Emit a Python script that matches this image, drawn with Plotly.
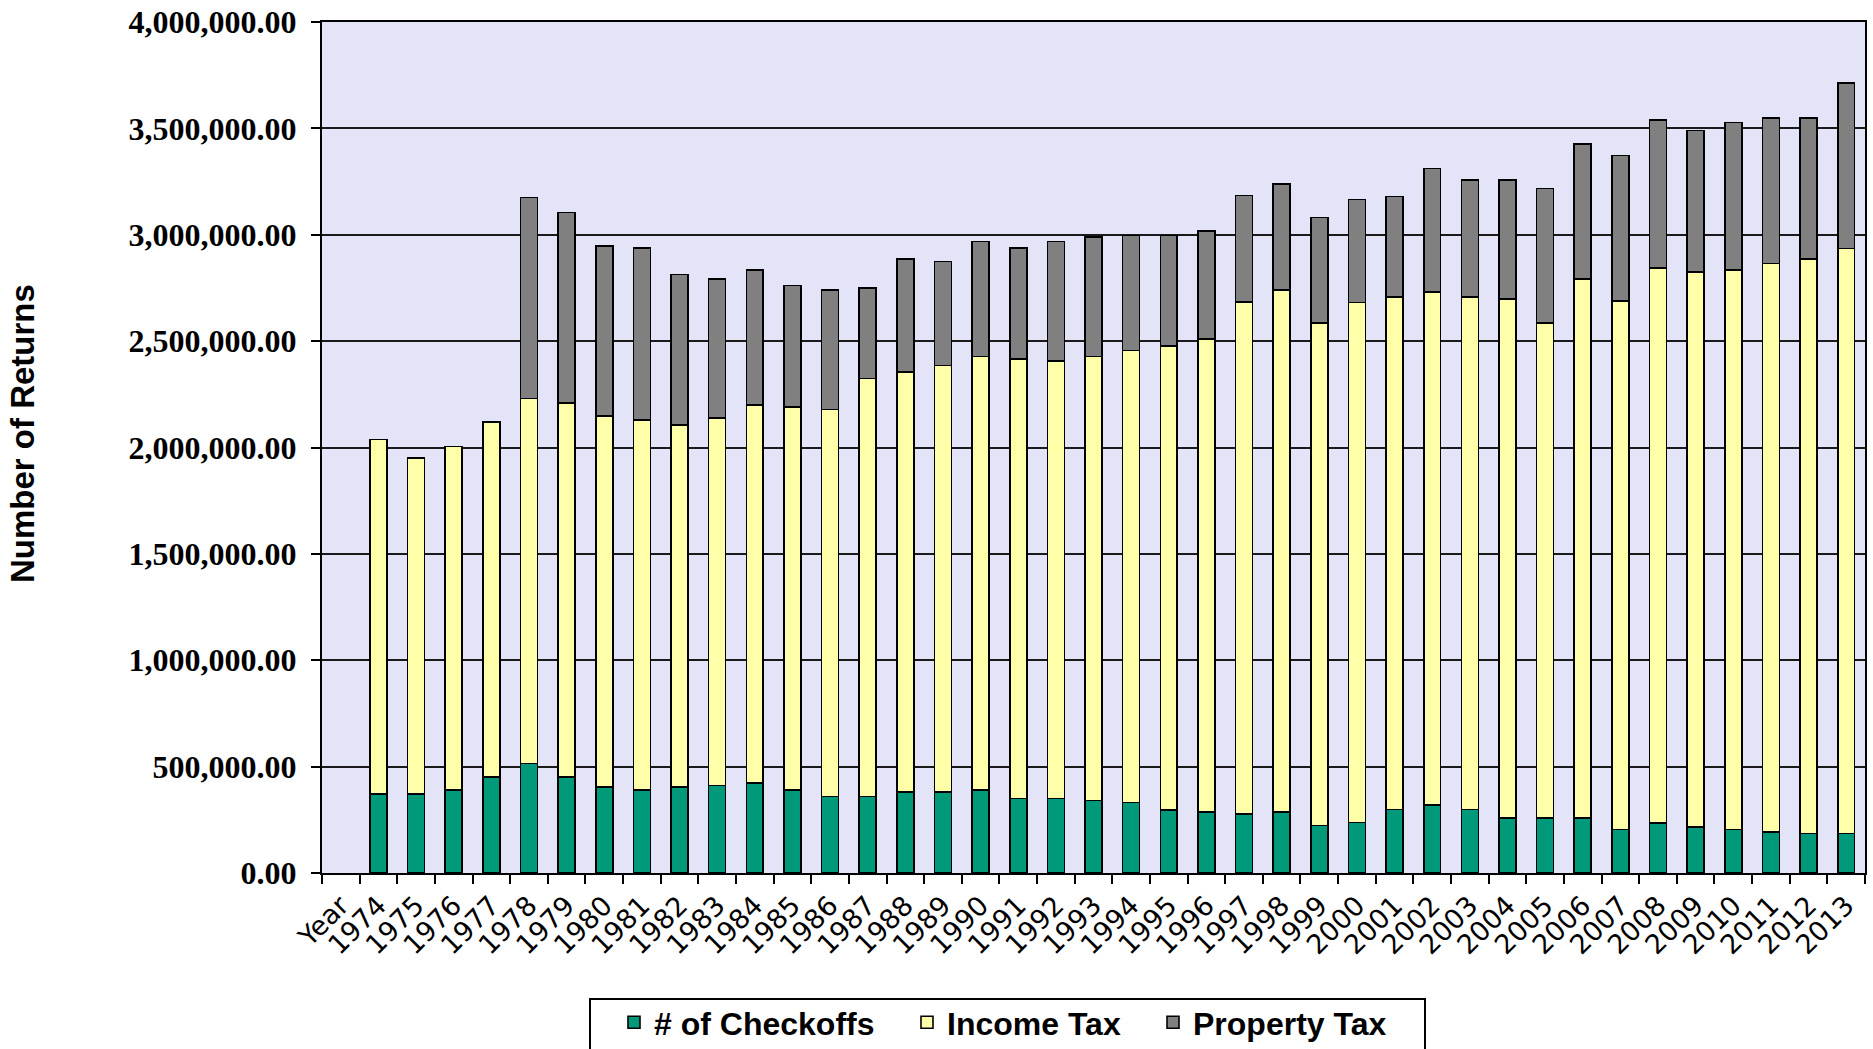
import plotly.graph_objects as go

categories = ["Year"] + [str(y) for y in range(1974, 2014)]

checkoffs = [None,
             371000, 371000, 391000, 452000, 515000, 452000, 403000, 391000, 403000, 412000,
             423000, 391000, 360000, 360000, 382000, 382000, 391000, 351000, 351000, 340000,
             331000, 297000, 288000, 277000, 288000, 224000, 237000, 298000, 319000, 298000,
             258000, 258000, 258000, 204000, 235000, 217000, 204000, 194000, 186000, 186000]

income_tax = [None,
              1667000, 1581000, 1613000, 1667000, 1716000, 1757000, 1745000, 1737000, 1704000, 1727000,
              1777000, 1799000, 1819000, 1965000, 1973000, 2004000, 2036000, 2064000, 2055000, 2087000,
              2125000, 2181000, 2222000, 2408000, 2452000, 2360000, 2444000, 2409000, 2411000, 2409000,
              2441000, 2326000, 2535000, 2485000, 2609000, 2607000, 2630000, 2671000, 2699000, 2750000]

property_tax = [None,
                0, 0, 0, 0, 945000, 895000, 798000, 809000, 706000, 654000,
                634000, 572000, 560000, 426000, 530000, 488000, 542000, 522000, 563000, 562000,
                540000, 518000, 508000, 500000, 498000, 498000, 485000, 472000, 581000, 551000,
                559000, 633000, 633000, 683000, 694000, 666000, 694000, 683000, 663000, 778000]

series_names = ["# of Checkoffs", "Income Tax", "Property Tax"]
series_colors = ["#00997A", "#FFFFAA", "#808080"]
series_values = [checkoffs, income_tax, property_tax]
legend_ids = ["legend", "legend2", "legend3"]

W, H = 1873, 1049
L, R, T, B = 322, 8, 22, 176
pw, ph = W - L - R, H - T - B

def px_x(p):
    return (p - L) / pw

def px_y(p):
    return (H - B - p) / ph

fig = go.Figure()
for name, color, vals, lg in zip(series_names, series_colors, series_values, legend_ids):
    fig.add_trace(go.Bar(
        x=categories, y=vals, name=name, legend=lg, showlegend=True,
        marker=dict(color=color, line=dict(color="#000000", width=1.6)),
    ))

legend_font = dict(family="Liberation Sans, Arial, sans-serif", size=32, color="#000000", weight="bold")
legend_common = dict(orientation="h", xanchor="left", yanchor="top",
                     xref="container", yref="container", y=1 - 995 / H,
                     bgcolor="rgba(0,0,0,0)", borderwidth=0, font=legend_font)

fig.update_layout(
    width=W, height=H,
    margin=dict(l=L, r=R, t=T, b=B, pad=0),
    paper_bgcolor="#FFFFFF",
    plot_bgcolor="#E4E4F8",
    barmode="stack",
    bargap=0.55,
    showlegend=True,
    legend=dict(x=614 / W, **legend_common),
    legend2=dict(x=907 / W, **legend_common),
    legend3=dict(x=1153 / W, **legend_common),
    xaxis=dict(
        type="category",
        categoryorder="array", categoryarray=categories,
        tickangle=-45,
        tickson="boundaries",
        ticks="outside", ticklen=9, tickwidth=1.5, tickcolor="#000000",
        ticklabelstandoff=4,
        showline=True, linecolor="#000000", linewidth=2, mirror=True,
        showgrid=False,
        automargin=False,
        tickfont=dict(family="DejaVu Sans, Verdana, sans-serif", size=27, color="#000000"),
    ),
    yaxis=dict(
        range=[0, 4000000],
        dtick=500000,
        tickformat=",.2f",
        ticks="outside", ticklen=9, tickwidth=1.5, tickcolor="#000000",
        ticklabelstandoff=8,
        showline=True, linecolor="#000000", linewidth=2, mirror=True,
        showgrid=True, gridcolor="#1a1a1a", gridwidth=1.5,
        zeroline=False,
        automargin=False,
        tickfont=dict(family="Liberation Serif, Times New Roman, serif", size=32, color="#000000", weight="bold"),
    ),
    annotations=[dict(text="Number of Returns", xref="paper", yref="paper",
                      x=px_x(22), y=px_y(434), xanchor="center", yanchor="middle",
                      textangle=-90, showarrow=False,
                      font=dict(family="Liberation Sans, Arial, sans-serif", size=33, color="#000000", weight="bold"))],
    shapes=[dict(type="rect", xref="paper", yref="paper",
                 x0=px_x(590), x1=px_x(1425), y0=px_y(999), y1=px_y(1070),
                 line=dict(color="#000000", width=2), fillcolor="rgba(0,0,0,0)", layer="above")],
)

fig.write_html("out.html", include_plotlyjs=True, config={"displayModeBar": False},
               post_script="document.body.style.margin='0';document.body.style.overflow='hidden';")
